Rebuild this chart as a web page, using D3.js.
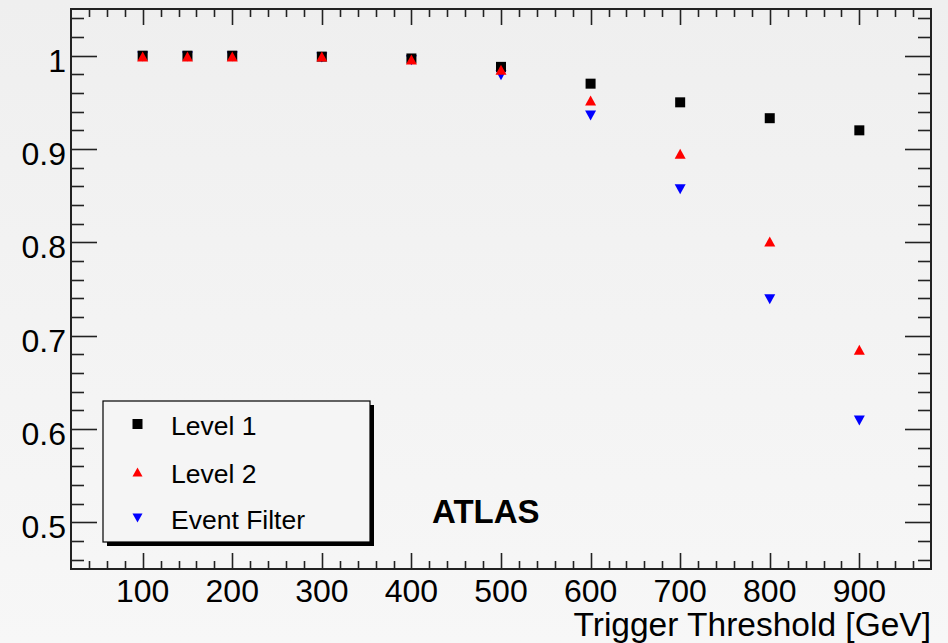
<!DOCTYPE html>
<html>
<head>
<meta charset="utf-8">
<script src="https://cdn.jsdelivr.net/npm/d3@7"></script>
<style>
html,body{margin:0;padding:0;background:#f2f2f2;}
svg{display:block;font-family:"Liberation Sans",Arial,Helvetica,sans-serif;}
</style>
</head>
<body>
<svg id="chart" width="948" height="643"></svg>
<script>
const thresholds = [100, 150, 200, 300, 400, 500, 600, 700, 800, 900];
const level1 = [1.0, 1.0, 1.0, 0.999, 0.997, 0.988, 0.970, 0.950, 0.933, 0.920];
const level2 = [0.999, 0.999, 0.999, 0.999, 0.996, 0.985, 0.952, 0.895, 0.801, 0.685];
const eventFilter = [0.999, 0.999, 0.999, 0.998, 0.995, 0.979, 0.936, 0.857, 0.739, 0.609];
const xTickLabels = [100, 200, 300, 400, 500, 600, 700, 800, 900];
const yTickLabels = [0.5, 0.6, 0.7, 0.8, 0.9, 1];
const seriesNames = ["Level 1", "Level 2", "Event Filter"];
const xTitle = "Trigger Threshold [GeV]";
const label = "ATLAS";

const svg = d3.select("#chart");
const W = 948, H = 643;
const L = 71, R = 931, T = 9, B = 569;

const defs = svg.append("defs");
const grad = defs.append("linearGradient").attr("id","bg").attr("x1",0).attr("y1",0).attr("x2",0).attr("y2",1);
grad.append("stop").attr("offset","0%").attr("stop-color","#efefef");
grad.append("stop").attr("offset","100%").attr("stop-color","#f7f7f7");
svg.append("rect").attr("width",W).attr("height",H).attr("fill","url(#bg)");

const x = d3.scaleLinear().domain([20, 980]).range([L, R]);
const y = d3.scaleLinear().domain([0.45, 1.05]).range([B, T]);

const axisCol = "#222";
const g = svg.append("g");

const xMinor = d3.range(40, 980, 20).filter(v => v % 100 !== 0);
const yMinor = d3.range(0.46, 1.05, 0.02).filter(v => Math.abs(Math.round(v*10) - v*10) > 1e-6);

function tickLines(vals, isX, len, side) {
  vals.forEach(v => {
    if (isX) {
      const px = Math.round(x(v)) + 0.5;
      if (side === "bottom") g.append("line").attr("x1",px).attr("x2",px).attr("y1",B).attr("y2",B-len);
      else g.append("line").attr("x1",px).attr("x2",px).attr("y1",T).attr("y2",T+len);
    } else {
      const py = Math.round(y(v)) + 0.5;
      if (side === "left") g.append("line").attr("x1",L).attr("x2",L+len).attr("y1",py).attr("y2",py);
      else g.append("line").attr("x1",R).attr("x2",R-len).attr("y1",py).attr("y2",py);
    }
  });
}
tickLines(xMinor, true, 8, "bottom");
tickLines(xTickLabels, true, 16, "bottom");
tickLines(xMinor, true, 8, "top");
tickLines(xTickLabels, true, 16, "top");
tickLines(yMinor, false, 13, "left");
tickLines(yTickLabels, false, 26, "left");
tickLines(yMinor, false, 13, "right");
tickLines(yTickLabels, false, 26, "right");
g.selectAll("line").attr("stroke", axisCol).attr("stroke-width", 1.6);

svg.append("rect").attr("x",L).attr("y",T).attr("width",R-L).attr("height",B-T)
  .attr("fill","none").attr("stroke",axisCol).attr("stroke-width",2);

svg.append("g").selectAll("text").data(xTickLabels).join("text")
  .attr("x", d => x(d)).attr("y", 602).attr("text-anchor","middle")
  .attr("font-size", 32).attr("fill","#000").text(d => d);
svg.append("g").selectAll("text").data(yTickLabels).join("text")
  .attr("x", 66).attr("y", d => y(d) + 16).attr("text-anchor","end")
  .attr("font-size", 32).attr("fill","#000").text(d => d);

svg.append("text").attr("x", R).attr("y", 636).attr("text-anchor","end")
  .attr("font-size", 33.5).attr("fill","#000").text(xTitle);

const sq = 10;
function upTri(cx, cy, w, h) {
  return `M${cx},${cy - h/2}L${cx + w/2},${cy + h/2}L${cx - w/2},${cy + h/2}Z`;
}
function downTri(cx, cy, w, h) {
  return `M${cx - w/2},${cy - h/2}L${cx + w/2},${cy - h/2}L${cx},${cy + h/2}Z`;
}
const pts = svg.append("g");
pts.selectAll(".ef").data(thresholds.map((t,i)=>[t,eventFilter[i]])).join("path")
  .attr("d", d => downTri(x(d[0]), y(d[1]), 11, 10)).attr("fill","#0000ff");
pts.selectAll(".l1").data(thresholds.map((t,i)=>[t,level1[i]])).join("rect")
  .attr("x", d => x(d[0]) - sq/2).attr("y", d => y(d[1]) - sq/2)
  .attr("width", sq).attr("height", sq).attr("fill","#000");
pts.selectAll(".l2").data(thresholds.map((t,i)=>[t,level2[i]])).join("path")
  .attr("d", d => upTri(x(d[0]), y(d[1]), 11, 10)).attr("fill","#ff0000");

const lx = 103, ly = 401, lw = 267, lh = 141;
svg.append("rect").attr("x", lx+4).attr("y", ly+4).attr("width", lw).attr("height", lh).attr("fill","#000");
svg.append("rect").attr("x", lx).attr("y", ly).attr("width", lw).attr("height", lh)
  .attr("fill","#f5f5f5").attr("stroke","#000").attr("stroke-width",1.2);
const rowsY = [424, 472, 518];
const lg = svg.append("g");
lg.append("rect").attr("x", 137.5 - 5).attr("y", rowsY[0] - 5).attr("width", 10).attr("height", 10).attr("fill","#000");
lg.append("path").attr("d", upTri(137.5, rowsY[1], 10, 9)).attr("fill","#ff0000");
lg.append("path").attr("d", downTri(137.5, rowsY[2], 10, 9)).attr("fill","#0000ff");
lg.selectAll("text").data(seriesNames).join("text")
  .attr("x", 171).attr("y", (d,i) => rowsY[i] + 11)
  .attr("font-size", 26.5).attr("fill","#000").text(d => d);

svg.append("text").attr("x", 432).attr("y", 523).attr("font-size", 33).attr("font-weight","bold")
  .attr("fill","#000").text(label);
</script>
</body>
</html>
